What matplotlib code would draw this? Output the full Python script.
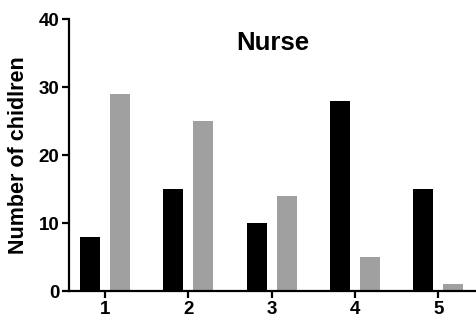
import matplotlib
matplotlib.use("Agg")
import matplotlib.pyplot as plt
import numpy as np

categories = ["1", "2", "3", "4", "5"]
series_black = [8, 15, 10, 28, 15]
series_gray = [29, 25, 14, 5, 1]
yticks = [0, 10, 20, 30, 40]

plt.rcParams['font.family'] = ['Liberation Sans', 'DejaVu Sans']
plt.rcParams['font.weight'] = 'bold'

fig = plt.figure(figsize=(4.77, 3.2), dpi=100)
ax = fig.add_axes([69/477, 1-291/320, 1-69/477, (291-19)/320])

x = np.arange(1, len(categories)+1)
w = 0.24
off = 0.18
ax.bar(x - off, series_black, width=w, color='black')
ax.bar(x + off, series_gray, width=w, color='#a0a0a0')

ax.set_xlim(0.568, 5.464)
ax.set_ylim(0, 40)
ax.set_xticks(x)
ax.set_xticklabels(categories, fontsize=13.5, fontweight='bold')
ax.set_yticks(yticks)
ax.set_yticklabels([str(t) for t in yticks], fontsize=13.5, fontweight='bold')
for s in ['top', 'right']:
    ax.spines[s].set_visible(False)
for s in ['left', 'bottom']:
    ax.spines[s].set_linewidth(1.6)
ax.tick_params(axis='both', width=1.6, length=5, pad=2)
ax.set_ylabel("Number of chidlren", fontsize=15.5, fontweight='bold', labelpad=7)
ax.text(0.5, 0.91, "Nurse", transform=ax.transAxes, ha='center', va='center',
        fontsize=18.5, fontweight='bold')

fig.savefig("out.png", dpi=100)
